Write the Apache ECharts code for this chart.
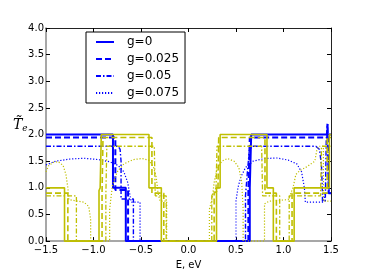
<!DOCTYPE html>
<html><head><meta charset="utf-8">
<script src="https://cdn.jsdelivr.net/npm/echarts@6/dist/echarts.min.js"></script>
<style>html,body{margin:0;padding:0;background:#fff}#c{width:368px;height:275px}</style>
</head><body><div id="c"></div>
<script>
// ---- data ----
var xTicks = [-1.5, -1.0, -0.5, 0.0, 0.5, 1.0, 1.5];
var yTicks = [0, 0.5, 1.0, 1.5, 2.0, 2.5, 3.0, 3.5, 4.0];
var legendNames = ['g=0', 'g=0.025', 'g=0.05', 'g=0.075'];

// blue curves
var blue_g0 = [[-1.5,2.0],[-0.795,2.0],[-0.795,1.0],[-0.66,1.0],[-0.66,0],[0.645,0],[0.645,1.0],[0.66,1.0],[0.66,2.0],[1.5,2.0]];
var blue_g025 = [[-1.5,1.945],[-0.77,1.945],[-0.77,0.96],[-0.636,0.96],[-0.636,0],[0.63,0],[0.63,0.95],[0.645,0.97],[0.645,1.945],[1.46,1.945],[1.465,2.2],[1.47,2.2],[1.475,0.9],[1.5,0.9]];
var blue_g05 = [[-1.5,1.78],[-0.74,1.78],[-0.72,1.72],[-0.71,1.5],[-0.71,0.79],[-0.58,0.79],[-0.58,0],[0.6,0],[0.6,0.85],[0.62,1.3],[0.64,1.7],[0.67,1.78],[1.34,1.78],[1.38,1.72],[1.40,1.4],[1.41,0.9],[1.41,0.75],[1.44,0.75],[1.45,1.9],[1.46,2.2],[1.48,2.2],[1.48,0.9],[1.5,0.9]];
var blue_g075 = [[-1.5,1.43],[-1.4,1.5],[-1.25,1.54],[-1.1,1.555],[-0.95,1.53],[-0.83,1.49],[-0.74,1.42],[-0.68,1.3],[-0.64,1.1],[-0.61,0.8],[-0.6,0.73],[-0.51,0.73],[-0.51,0],[0.5,0],[0.5,0.75],[0.52,1.0],[0.55,1.2],[0.6,1.38],[0.68,1.5],[0.8,1.55],[0.93,1.56],[1.05,1.52],[1.14,1.45],[1.19,1.3],[1.22,1.0],[1.23,0.73],[1.42,0.73],[1.44,0.9],[1.5,0.9]];

// yellow curves
var yel_g0 = [[-1.5,1.0],[-1.305,1.0],[-1.305,0],[-0.942,0],[-0.942,0.95],[-0.93,1.0],[-0.918,1.0],[-0.918,2.0],[-0.416,2.0],[-0.416,1.0],[-0.286,1.0],[-0.286,0],[0.295,0],[0.295,1.0],[0.333,1.0],[0.333,2.0],[0.826,2.0],[0.826,1.0],[0.893,1.0],[0.893,0],[1.112,0],[1.112,1.0],[1.483,1.0],[1.483,2.0],[1.5,2.0]];
var yel_g025 = [[-1.5,0.9],[-1.27,0.9],[-1.27,0],[-0.91,0],[-0.91,0.9],[-0.9,1.945],[-0.385,1.945],[-0.385,0.9],[-0.26,0.9],[-0.26,0],[0.27,0],[0.27,0.9],[0.31,0.95],[0.318,1.945],[0.805,1.945],[0.805,0.9],[0.925,0.9],[0.925,0],[1.09,0],[1.09,0.9],[1.46,0.9],[1.46,1.945],[1.5,1.945]];
var yel_g05 = [[-1.5,0.85],[-1.18,0.85],[-1.18,0],[-0.87,0],[-0.87,0.85],[-0.86,1.78],[-0.36,1.78],[-0.35,0.85],[-0.235,0.85],[-0.235,0],[0.245,0],[0.245,0.85],[0.29,1.0],[0.30,1.78],[0.77,1.78],[0.78,0.85],[0.96,0.85],[0.96,0],[1.06,0],[1.06,0.85],[1.39,0.85],[1.40,1.78],[1.5,1.78]];
var yel_g075 = [[-1.5,1.3],[-1.47,1.42],[-1.42,1.48],[-1.37,1.49],[-1.32,1.42],[-1.29,1.25],[-1.27,1.0],[-1.26,0.78],[-1.2,0.76],[-1.1,0.73],[-1.05,0.65],[-1.03,0.4],[-1.03,0],[-0.83,0],[-0.83,0.6],[-0.8,1.05],[-0.75,1.3],[-0.68,1.45],[-0.58,1.53],[-0.49,1.55],[-0.42,1.52],[-0.37,1.4],[-0.34,1.2],[-0.32,0.9],[-0.3,0.75],[-0.23,0.75],[-0.23,0],[0.22,0],[0.22,0.6],[0.25,0.8],[0.27,1.1],[0.3,1.35],[0.35,1.5],[0.41,1.55],[0.48,1.5],[0.53,1.38],[0.56,1.1],[0.575,0.6],[0.575,0],[0.8,0],[0.8,0.7],[0.85,0.75],[1.05,0.78],[1.1,1.0],[1.13,1.25],[1.17,1.32],[1.25,1.4],[1.33,1.5],[1.35,1.7],[1.37,1.78],[1.42,1.78],[1.42,0.75],[1.5,0.75]];

// ---- styles ----
var BLUE = '#0000ff', YEL = '#bfbf00';
var blueStyles = [
  {type:'solid', width:2},
  {type:[6,3], width:2},
  {type:[5,2,1.5,2], width:1.4},
  {type:[1.2,1.8], width:1.2}
];
var yelStyles = [
  {type:'solid', width:1.6},
  {type:[6,3], width:1.6},
  {type:[5,2,1.5,2], width:1.3},
  {type:[1.2,1.8], width:1.2}
];
function mk(name, data, color, st, z) {
  return {name:name, type:'line', data:data, symbol:'none', showSymbol:false, animation:false, silent:true, z:z,
    lineStyle:{color:color, type:st.type, width:st.width}, itemStyle:{color:color}};
}
var blueData = [blue_g0, blue_g025, blue_g05, blue_g075];
var yelData = [yel_g0, yel_g025, yel_g05, yel_g075];
var series = [];
for (var i = 0; i < 4; i++) series.push(mk(legendNames[i], blueData[i], BLUE, blueStyles[i], 2));
for (var j = 0; j < 4; j++) series.push(mk('y ' + legendNames[j], yelData[j], YEL, yelStyles[j], 3));

function fmt(v){ return v.toFixed(1).replace('-', '\u2212'); }
var font = 'DejaVu Sans';
var chart = echarts.init(document.getElementById('c'), null, {renderer:'canvas'});
chart.setOption({
  animation:false,
  backgroundColor:'#fff',
  grid:{left:46, right:37, top:28, bottom:29, show:false},
  xAxis:[
    {type:'value', min:xTicks[0], max:xTicks[xTicks.length-1], interval:0.5, position:'bottom',
     axisLine:{show:true, onZero:false, lineStyle:{color:'#8a8a8a', width:1.5}},
     axisTick:{show:true, inside:true, length:4, lineStyle:{color:'#000'}},
     axisLabel:{formatter:fmt, fontFamily:font, fontSize:10, color:'#000', margin:4},
     splitLine:{show:false},
     name:'E, eV', nameLocation:'middle', nameGap:17, nameTextStyle:{fontFamily:font, fontSize:10, color:'#000'}},
    {type:'value', min:-1.5, max:1.5, interval:0.5, position:'top',
     axisLine:{show:true, onZero:false, lineStyle:{color:'#222', width:1}},
     axisTick:{show:true, inside:true, length:4, lineStyle:{color:'#000'}},
     axisLabel:{show:false}, splitLine:{show:false}}
  ],
  yAxis:[
    {type:'value', min:yTicks[0], max:yTicks[yTicks.length-1], interval:0.5, position:'left',
     axisLine:{show:true, onZero:false, lineStyle:{color:'#8a8a8a', width:1.5}},
     axisTick:{show:true, inside:true, length:4, lineStyle:{color:'#000'}},
     axisLabel:{formatter:fmt, fontFamily:font, fontSize:10, color:'#000', margin:2},
     splitLine:{show:false}},
    {type:'value', min:0, max:4, interval:0.5, position:'right',
     axisLine:{show:true, onZero:false, lineStyle:{color:'#222', width:1}},
     axisTick:{show:true, inside:true, length:4, lineStyle:{color:'#000'}},
     axisLabel:{show:false}, splitLine:{show:false}}
  ],
  legend:{
    data:legendNames, orient:'vertical', left:86, top:32,
    padding:[4,6,4,9], itemGap:5, itemWidth:18, itemHeight:13,
    itemStyle:{opacity:0},
    backgroundColor:'#fff', borderColor:'#000', borderWidth:1, borderRadius:0,
    textStyle:{fontFamily:font, fontSize:12, color:'#000', padding:[0,0,0,8]},
    selectedMode:false
  },
  graphic:[{
    type:'text', left:13, top:118,
    style:{text:'{t|T\u0303}{s|e}', rich:{
      t:{fontFamily:'DejaVu Serif', fontStyle:'italic', fontSize:14, fill:'#000'},
      s:{fontFamily:'DejaVu Serif', fontStyle:'italic', fontSize:9, fill:'#000', padding:[8,0,0,0]}
    }}
  }],
  series:series
});
</script></body></html>
